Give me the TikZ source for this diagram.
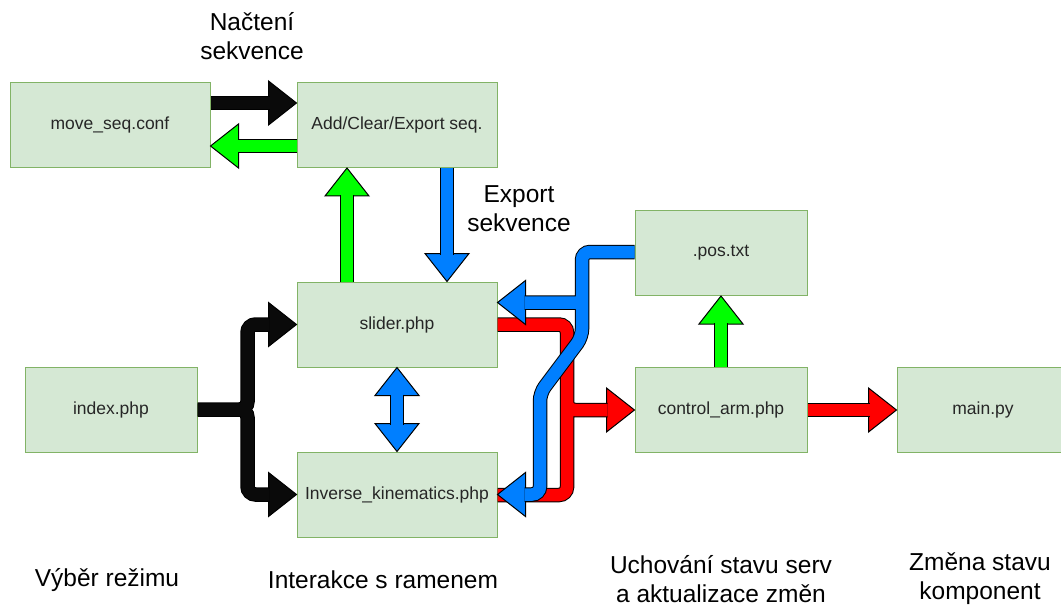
\documentclass[tikz,border=0pt]{standalone}
\usepackage{fontspec}
\setmainfont{Liberation Sans}
\usepackage{xcolor}
\definecolor{bfill}{HTML}{D5E8D4}
\definecolor{bline}{HTML}{82B366}
\definecolor{k1}{HTML}{0A0A0A}
\definecolor{g1}{HTML}{00FF00}
\definecolor{b1}{HTML}{007FFF}
\definecolor{r1}{HTML}{FF0000}
\tikzset{
	box/.style={draw=bline, fill=bfill, line width=1pt, minimum width=200pt, minimum height=85pt, font=\fontsize{17.5}{21}\selectfont, text=black!85},
	fat/.style={draw=black, double=#1, double distance=12.5pt, line width=1pt, rounded corners=8pt},
	head/.pic={\filldraw[fill=#1, draw=black, line width=1pt] (0,0) -- (-28pt,22pt) -- (-28pt,-22pt) -- cycle;},
	lbl/.style={font=\fontsize{24.5}{29}\selectfont, align=center}
}
\begin{document}
\begin{tikzpicture}[x=1pt, y=-1pt]
	\useasboundingbox (0,0) rectangle (1061,607);
	\node[box] (mseq) at (110,125) {move\_seq.conf};
	\node[box] (addseq) at (397,125) {Add/Clear/Export seq.};
	\node[box] (slider) at (397,324.5) {slider.php};
	\node[box, minimum width=172pt] (index) at (111,409.5) {index.php};
	\node[box] (invkin) at (397,494.5) {Inverse\_kinematics.php};
	\node[box, minimum width=172pt] (pos) at (721,253) {.pos.txt};
	\node[box, minimum width=172pt] (ctrl) at (721,410) {control\_arm.php};
	\node[box, minimum width=172pt] (mainpy) at (983,410) {main.py};

	\node[lbl] (nacteni) at (252,36) {Načtení\\sekvence};
	\node[lbl] (export) at (519,209) {Export\\sekvence};
	\node[lbl] (vyber) at (107,580) {Výběr režimu};
	\node[lbl] (interakce) at (383,580) {Interakce s ramenem};
	\node[lbl] (uchovani) at (721,579) {Uchování stavu serv\\a aktualizace změn};
	\node[lbl] (zmena) at (980,579) {Změna stavu\\komponent};

	\pic at ([yshift=22pt]addseq.west) {head=k1};
	\draw[fat=k1] ([yshift=22pt]mseq.east) -- ([xshift=-27pt,yshift=22pt]addseq.west);
	\pic[rotate=180] at ([yshift=-21pt]mseq.east) {head=g1};
	\draw[fat=g1] ([yshift=-21pt]addseq.west) -- ([xshift=27pt,yshift=-21pt]mseq.east);

	\pic[rotate=90] at ([xshift=-50pt]addseq.south) {head=g1};
	\draw[fat=g1] ([xshift=-50pt]slider.north) -- ([xshift=-50pt,yshift=-27pt]addseq.south);
	\pic[rotate=270] at ([xshift=50pt]slider.north) {head=b1};
	\draw[fat=b1] ([xshift=50pt]addseq.south) -- ([xshift=50pt,yshift=27pt]slider.north);

	\pic[rotate=90] at (slider.south) {head=b1};
	\pic[rotate=270] at (invkin.north) {head=b1};
	\draw[fat=b1] ([yshift=-27pt]slider.south) -- ([yshift=27pt]invkin.north);

	\pic at (slider.west) {head=k1};
	\pic at (invkin.west) {head=k1};
	\draw[fat=k1] (index.east) -- ++(50,0) |- ([xshift=-27pt]slider.west)
		(index.east) -- ++(50,0) |- ([xshift=-27pt]invkin.west);

	\pic[rotate=90] at (pos.south) {head=g1};
	\draw[fat=g1] (ctrl.north) -- ([yshift=-27pt]pos.south);
	\pic at (mainpy.west) {head=r1};
	\draw[fat=r1] (ctrl.east) -- ([xshift=-27pt]mainpy.west);

	\pic at (ctrl.west) {head=r1};
	\draw[fat=r1] (slider.east) -- (567,324.5) -- (567,495) -- (invkin.east |- 0,495)
		(567,370) -- (567,410) -- ([xshift=-27pt]ctrl.west);

	\pic[rotate=180] at ([yshift=22pt]slider.east) {head=b1};
	\pic[rotate=180] at (invkin.east) {head=b1};
	\draw[fat=b1] (pos.west |- 0,252) -- (582,252) -- (582,337) -- (540,393) -- (540,494.5) -- ([xshift=27pt]invkin.east)
		(582,302.5) -- ([xshift=27pt,yshift=22pt]slider.east);
\end{tikzpicture}
\end{document}
